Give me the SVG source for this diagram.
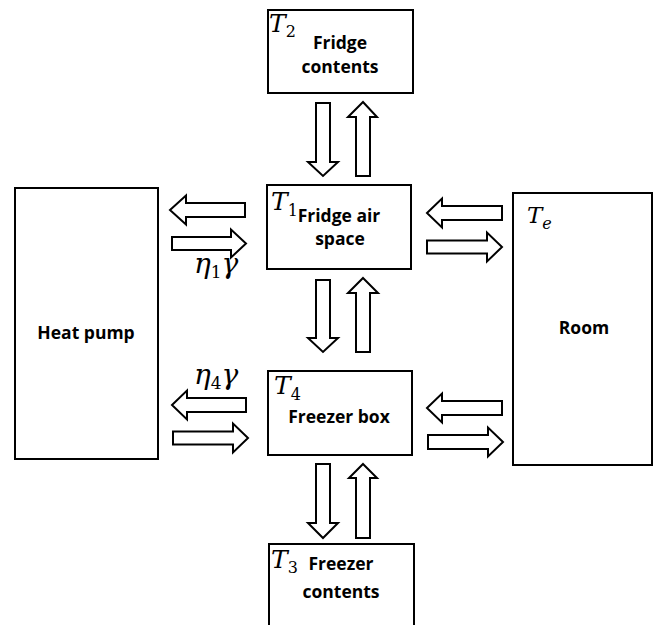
<svg xmlns="http://www.w3.org/2000/svg" width="657" height="625" viewBox="0 0 657 625">
<style>
.box{fill:#fff;stroke:#000;stroke-width:2}
.arr{fill:#fff;stroke:#000;stroke-width:2;stroke-linejoin:miter}
.lbl{font-family:"Open Sans","Liberation Sans",sans-serif;font-weight:bold;font-size:17.5px;fill:#000;text-anchor:middle}
.mi{font-family:"DejaVu Serif","Liberation Serif",serif;font-style:italic;font-size:25px;fill:#000}
.sub{font-family:"DejaVu Serif","Liberation Serif",serif;font-size:16px;font-style:normal;fill:#000}
</style>
<rect width="657" height="625" fill="#fff"/>
<g id="fridge-contents">
<rect class="box" x="268" y="10" width="145" height="83"/>
<text class="mi" x="269" y="32">T<tspan class="sub" dy="5">2</tspan></text>
<text class="lbl" x="340" y="49">Fridge</text>
<text class="lbl" x="340" y="73">contents</text>
</g>
<g id="fridge-air-space">
<rect class="box" x="267" y="185" width="144" height="84"/>
<text class="mi" x="271" y="210">T<tspan class="sub" dy="6">1</tspan></text>
<text class="lbl" x="339" y="222">Fridge air</text>
<text class="lbl" x="340" y="245">space</text>
</g>
<g id="freezer-box">
<rect class="box" x="268" y="371" width="144" height="84"/>
<text class="mi" x="274" y="394">T<tspan class="sub" dy="6">4</tspan></text>
<text class="lbl" x="339" y="423">Freezer box</text>
</g>
<g id="freezer-contents">
<rect class="box" x="269" y="544" width="145" height="90"/>
<text class="mi" x="271" y="568">T<tspan class="sub" dy="5">3</tspan></text>
<text class="lbl" x="341" y="570">Freezer</text>
<text class="lbl" x="341" y="598">contents</text>
</g>
<g id="heat-pump">
<rect class="box" x="15" y="188" width="143" height="271"/>
<text class="lbl" x="86" y="339">Heat pump</text>
</g>
<g id="room">
<rect class="box" x="513" y="193" width="139" height="272"/>
<text class="mi" x="527" y="223" style="font-size:23px">T<tspan class="sub" dy="6" style="font-style:italic">e</tspan></text>
<text class="lbl" x="584" y="334">Room</text>
</g>
<g id="labels">
<text class="mi" x="194" y="273" style="font-size:28px">η<tspan class="sub" style="font-size:17px" dy="5">1</tspan><tspan dy="-5">γ</tspan></text>
<text class="mi" x="194" y="384" style="font-size:28px">η<tspan class="sub" style="font-size:17px" dy="5">4</tspan><tspan dy="-5">γ</tspan></text>
</g>
<g id="connectors">
<polygon class="arr" points="170,210 186,195.5 186,203 245,203 245,217 186,217 186,224.5"/>
<polygon class="arr" points="172,237 231,237 231,229.5 246,243.5 231,257.5 231,250 172,250"/>
<polygon class="arr" points="427,213 442,198.5 442,206 502,206 502,220 442,220 442,227.5"/>
<polygon class="arr" points="427,240.5 487,240.5 487,232.5 502,247 487,261.5 487,253.5 427,253.5"/>
<polygon class="arr" points="172,405 187,390.5 187,398 246,398 246,412 187,412 187,419.5"/>
<polygon class="arr" points="173,431.5 233,431.5 233,423.5 248,438 233,452.5 233,444.5 173,444.5"/>
<polygon class="arr" points="427,408 442,393.5 442,401 502,401 502,415 442,415 442,422.5"/>
<polygon class="arr" points="428,435 488,435 488,427.5 503,442 488,456.5 488,449 428,449"/>
<polygon class="arr" points="316,103 330,103 330,162 338,162 323,176 308,162 316,162"/>
<polygon class="arr" points="363,102 377,117 370,117 370,176 356,176 356,117 348,117"/>
<polygon class="arr" points="316,280 330,280 330,338 338,338 323,352 308,338 316,338"/>
<polygon class="arr" points="363,278 378,293 370,293 370,352 356,352 356,293 348,293"/>
<polygon class="arr" points="316,464 330,464 330,523 338,523 323,538 308,523 316,523"/>
<polygon class="arr" points="363,464 377,478 370,478 370,538 356,538 356,478 349,478"/>
</g>
</svg>
